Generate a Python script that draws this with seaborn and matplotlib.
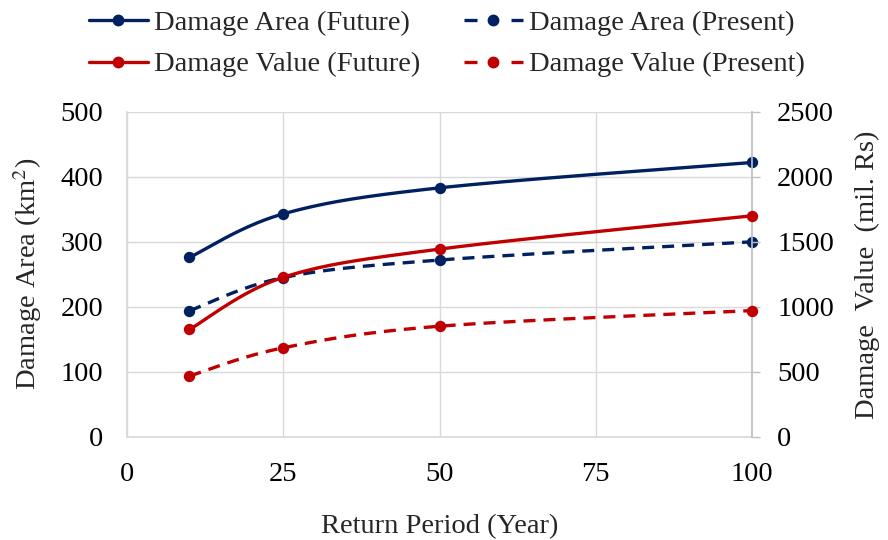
import numpy as np
import pandas as pd
import matplotlib
matplotlib.use("Agg")
import matplotlib.pyplot as plt
from matplotlib.lines import Line2D
import seaborn as sns

# Return periods (years)
return_period = [10, 25, 50, 100]

# Damage area, km^2 (left axis)
area_future = [276, 343, 383, 422]
area_present = [194, 245, 272, 300]

# Damage value, million Rs (right axis)
value_future = [826, 1227, 1444, 1700]
value_present = [468, 685, 851, 971]

x_ticks = [0, 25, 50, 75, 100]
left_ticks = [0, 100, 200, 300, 400, 500]
right_ticks = [0, 500, 1000, 1500, 2000, 2500]

NAVY = "#002060"
RED = "#C00000"

sns.set_theme(style="white")
plt.rcParams["font.family"] = ["Liberation Serif", "DejaVu Serif"]
plt.rcParams["mathtext.fontset"] = "stix"


def smooth(x, y, xr, yr, n=60):
    """Bezier smoothing of a polyline (Catmull-Rom style, tension 1/6),
    computed in normalised axis space so the curve shape matches the chart."""
    x = np.asarray(x, float) / xr
    y = np.asarray(y, float) / yr
    px, py = [], []
    m = len(x)
    for i in range(m - 1):
        x0, y0 = (x[i - 1], y[i - 1]) if i > 0 else (x[i], y[i])
        x3, y3 = (x[i + 2], y[i + 2]) if i + 2 < m else (x[i + 1], y[i + 1])
        x1, y1 = x[i], y[i]
        x2, y2 = x[i + 1], y[i + 1]
        c1x, c1y = x1 + (x2 - x0) / 6, y1 + (y2 - y0) / 6
        c2x, c2y = x2 - (x3 - x1) / 6, y2 - (y3 - y1) / 6
        t = np.linspace(0, 1, n, endpoint=(i == m - 2))
        b0, b1, b2, b3 = (1 - t) ** 3, 3 * t * (1 - t) ** 2, 3 * t ** 2 * (1 - t), t ** 3
        px.append(b0 * x1 + b1 * c1x + b2 * c2x + b3 * x2)
        py.append(b0 * y1 + b1 * c1y + b2 * c2y + b3 * y2)
    return np.concatenate(px) * xr, np.concatenate(py) * yr


fig = plt.figure(figsize=(8.88, 5.4), dpi=100)
ax = fig.add_axes([0.143, 0.191, 0.704, 0.602])
ax2 = ax.twinx()

LW = 2.4
MS = 8.2
DASH = (3.6, 2.4)
LEGEND_DASH = (3.9, 10.2)

series = [
    (ax, area_future, 500, NAVY, "-", "Damage Area (Future)"),
    (ax, area_present, 500, NAVY, "--", "Damage Area (Present)"),
    (ax2, value_future, 2500, RED, "-", "Damage Value (Future)"),
    (ax2, value_present, 2500, RED, "--", "Damage Value (Present)"),
]

for a, vals, yr, col, ls, name in series:
    sx, sy = smooth(return_period, vals, 100, yr)
    curve = pd.DataFrame({"x": sx, "y": sy})
    n_before = len(a.lines)
    sns.lineplot(data=curve, x="x", y="y", ax=a, color=col, lw=LW,
                 sort=False, estimator=None, legend=False)
    ln = a.lines[n_before]
    ln.set_clip_on(False)
    if ls == "--":
        ln.set_dashes(DASH)
    pts = pd.DataFrame({"x": return_period, "y": vals})
    n_coll = len(a.collections)
    sns.scatterplot(data=pts, x="x", y="y", ax=a, color=col, s=MS ** 2,
                    marker="o", edgecolor=col, linewidth=0, legend=False, zorder=5)
    a.collections[n_coll].set_clip_on(False)

GRID = "#D9D9D9"
ax.set_xlim(0, 100)
ax.set_ylim(0, 500)
ax2.set_ylim(0, 2500)
ax.set_xticks(x_ticks)
ax.set_yticks(left_ticks)
ax2.set_yticks(right_ticks)
ax.grid(True, color=GRID, lw=1.0)
ax2.grid(False)
ax.set_axisbelow(True)

for a in (ax, ax2):
    for s in a.spines.values():
        s.set_visible(False)
ax.spines["left"].set_visible(True)
ax.spines["left"].set_color(GRID)
ax.spines["bottom"].set_visible(True)
ax.spines["bottom"].set_color(GRID)
ax2.spines["right"].set_visible(True)
ax2.spines["right"].set_color("#BFBFBF")

FS = 20.5
ax.tick_params(axis="y", labelsize=FS, length=0, pad=17, colors="black")
ax.tick_params(axis="x", labelsize=FS, length=0, pad=18, colors="black")
ax2.tick_params(axis="y", labelsize=FS, length=6, width=1, color="#BFBFBF",
                direction="out", pad=12, labelcolor="black")

ax.set_xlabel("Return Period (Year)", fontsize=FS)
ax.xaxis.set_label_coords(0.5, -0.237)
ax.set_ylabel("Damage Area (km$^2$)", fontsize=FS)
ax.yaxis.set_label_coords(-0.133, 0.5)
ax2.set_ylabel("Damage  Value  (mil. Rs)", fontsize=FS)
ax2.yaxis.set_label_coords(1.165, 0.5)

handles = []
labels = []
for _, _, _, col, ls, name in series:
    h = Line2D([], [], color=col, lw=LW, marker="o", markersize=7.5)
    if ls == "--":
        h.set_dashes(LEGEND_DASH)
    handles.append(h)
    labels.append(name)
order = [0, 2, 1, 3]
fig.legend([handles[i] for i in order], [labels[i] for i in order],
           ncol=2, loc="upper center", bbox_to_anchor=(0.503, 1.029),
           frameon=False, fontsize=FS, handlelength=2.07, handletextpad=0.21,
           columnspacing=1.55, labelspacing=0.55)

fig.savefig("out.png", dpi=100)
